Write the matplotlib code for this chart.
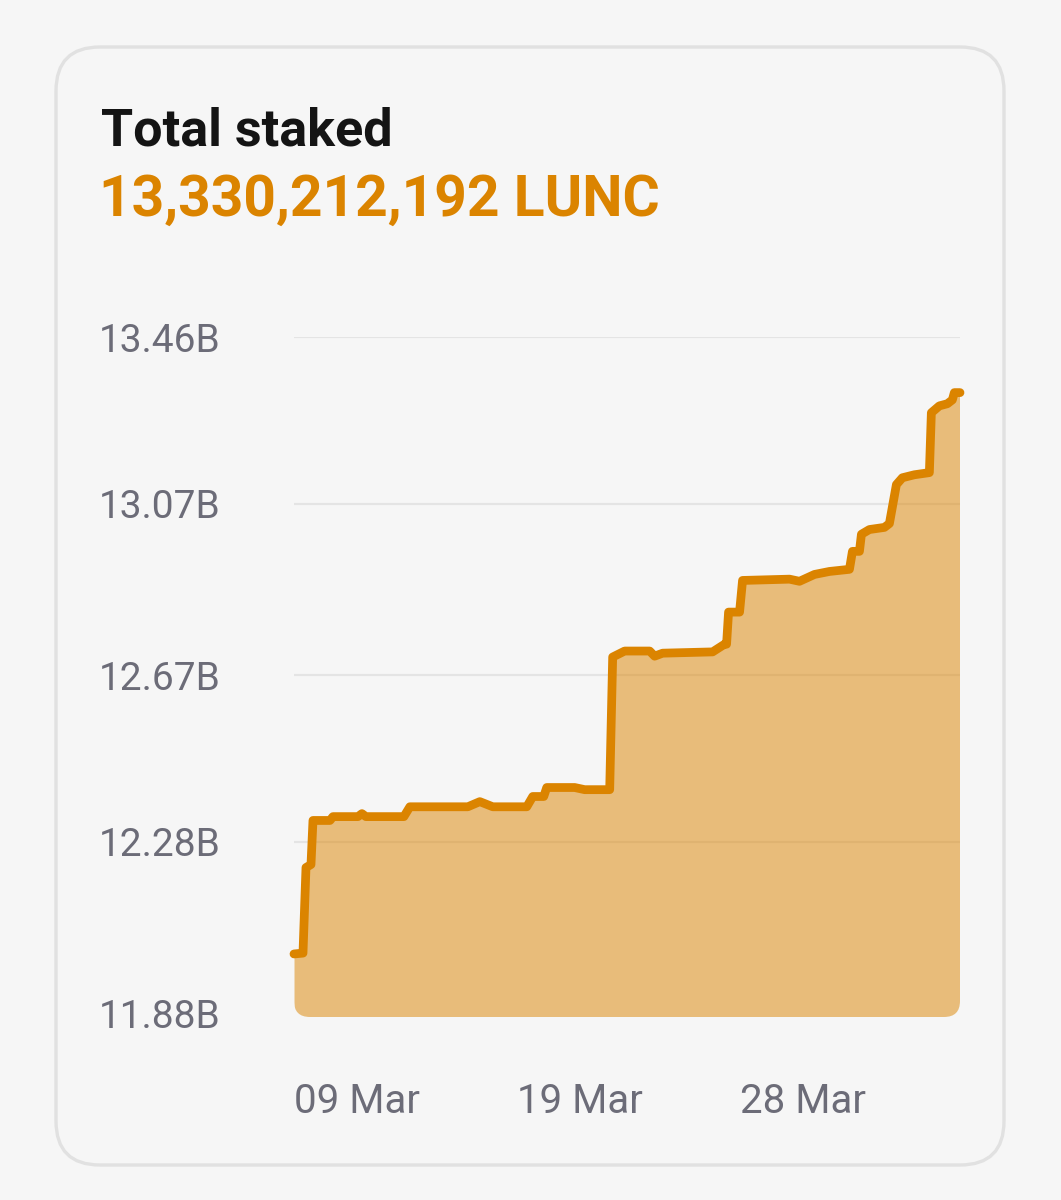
import matplotlib
matplotlib.use("Agg")
import matplotlib.pyplot as plt
from matplotlib.patches import FancyBboxPatch
from matplotlib.transforms import IdentityTransform, blended_transform_factory
import numpy as np

plt.rcParams['font.family'] = ['Roboto', 'DejaVu Sans']

# ---- data (sample index along x, value in billions LUNC) ----
x_idx = [0, 2.7, 3.6, 5.1, 5.7, 10.8, 11.7, 19.2, 20.4, 21.6, 33, 34.8, 52.2, 55.8,
         59.7, 69.9, 71.7, 75, 75.9, 84.3, 87.3, 94.8, 95.7, 99.3, 106.8, 108.3,
         110.7, 125.7, 129.3, 129.9, 130.5, 133.8, 134.7, 148.8, 151.8, 156.3,
         160.8, 166.8, 167.7, 169.8, 170.4, 172.8, 177.3, 178.8, 180.9, 182.7,
         186.3, 190.8, 191.4, 193.8, 196.2, 197.7, 198.3, 200]
staked_b = [12.018, 12.020, 12.220, 12.227, 12.330, 12.330, 12.339, 12.339, 12.346,
            12.339, 12.339, 12.362, 12.362, 12.374, 12.362, 12.362, 12.386, 12.386,
            12.407, 12.407, 12.402, 12.402, 12.712, 12.726, 12.726, 12.714, 12.721,
            12.724, 12.742, 12.742, 12.817, 12.817, 12.891, 12.894, 12.889, 12.905,
            12.912, 12.917, 12.959, 12.959, 12.999, 13.010, 13.015, 13.024, 13.115,
            13.131, 13.138, 13.143, 13.283, 13.299, 13.304, 13.313, 13.330, 13.330]
y_ticks = [11.88, 12.28, 12.67, 13.07, 13.46]
y_tick_labels = ["11.88B", "12.28B", "12.67B", "13.07B", "13.46B"]
x_tick_pos = [0, 67, 134]
x_tick_labels = ["09 Mar", "19 Mar", "28 Mar"]
title = "Total staked"
total_text = "13,330,212,192 LUNC"

W, H = 1061, 1200
BG = "#f6f6f6"
ORANGE = "#db8400"
GREY = "#6c6c78"

fig = plt.figure(figsize=(W / 100, H / 100), dpi=100, facecolor=BG)

# card
card = FancyBboxPatch((56, 35), 948, 1118, boxstyle="round,pad=0,rounding_size=44",
                      transform=IdentityTransform(), facecolor=BG,
                      edgecolor="#e1e1e1", linewidth=2.4, zorder=-5)
fig.patches.append(card)

# axes placement in pixels
ax_l, ax_r, ax_top, ax_bot = 294, 960, 337, 1017
ax = fig.add_axes([ax_l / W, 1 - ax_bot / H, (ax_r - ax_l) / W, (ax_bot - ax_top) / H])
ax.set_zorder(2)
ax.set_facecolor("none")
per_px = (13.46 - 11.88) / (1013 - 337)
ymin = 11.88 - 4 * per_px
ax.set_ylim(ymin, 13.46)
ax.set_xlim(0, 200)

for v in y_ticks[1:]:
    ax.axhline(v, color="#e4e4e4", lw=1.6, zorder=1)

fill = ax.fill_between(x_idx, staked_b, ymin, color=ORANGE, alpha=0.5, lw=0, zorder=2)
# rounded bottom corners for the fill
clip = FancyBboxPatch((ax_l, H - ax_bot), ax_r - ax_l, ax_bot - ax_top + 40,
                      boxstyle="round,pad=0,rounding_size=16",
                      transform=IdentityTransform(), facecolor="none", edgecolor="none")
fill.set_clip_path(clip)
ax.plot(x_idx, staked_b, color=ORANGE, lw=6.3, solid_joinstyle="round",
        solid_capstyle="round", zorder=3, clip_on=False)

for s in ax.spines.values():
    s.set_visible(False)
ax.tick_params(length=0)
ax.set_yticks([])
ax.set_xticks(x_tick_pos)
ax.set_xticklabels(x_tick_labels, fontsize=29, color=GREY)
for lab in ax.get_xticklabels():
    lab.set_ha("left")
ax.tick_params(axis="x", pad=47)

tr = blended_transform_factory(fig.transFigure, ax.transData)
for v, t in zip(y_ticks, y_tick_labels):
    ax.text(99 / W, v, t, transform=tr, ha="left", va="center_baseline", fontsize=28,
            color=GREY)

fig.text(101 / W, 1 - 146 / H, title, fontsize=37.5, fontweight="bold", color="#141414",
         ha="left", va="baseline")
fig.text(99 / W, 1 - 216 / H, total_text, fontsize=41, fontweight="bold", color=ORANGE,
         ha="left", va="baseline")

fig.savefig("out.png", dpi=100, facecolor=BG)
